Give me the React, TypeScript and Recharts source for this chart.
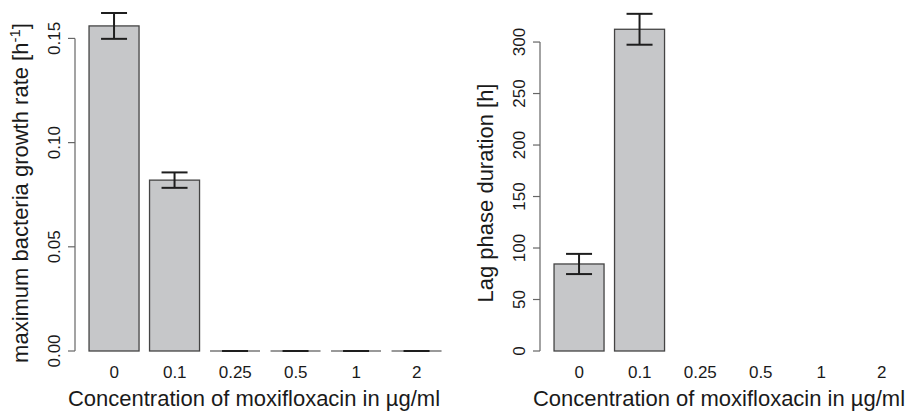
import React from 'react';
import { BarChart, Bar, XAxis, YAxis, ErrorBar, ReferenceLine, Label } from 'recharts';

// Concentration categories (µg/ml)
const concentrations = ['0', '0.1', '0.25', '0.5', '1', '2'];

// Left panel: maximum growth rate [1/h]
const growthRate = [0.156, 0.082, 0, 0, 0, 0];
const growthRateErr = [0.0062, 0.0037, 0, 0, 0, 0];
const growthTicks = [0, 0.05, 0.1, 0.15];

// Right panel: lag phase duration [h] (no growth at higher concentrations)
const lagDuration: (number | null)[] = [84.5, 312.4, null, null, null, null];
const lagDurationErr: (number | null)[] = [9.8, 15, null, null, null, null];
const lagTicks = [0, 50, 100, 150, 200, 250, 300];

const FONT = '"Liberation Sans", Arial, Helvetica, sans-serif';
const TEXT = '#1a1a1a';
const AXIS = '#666';
const ERR = '#1e1e1e';
const CAP_HALF = 13;

const growthData = concentrations.map((name, i) => ({ name, value: growthRate[i], err: growthRateErr[i] }));
const lagData = concentrations.map((name, i) => ({ name, value: lagDuration[i], err: lagDurationErr[i] }));

// R-style bars: zero values collapse to a flat outline, with the (zero) error caps on top
const BarShape = (props: any) => {
  const { x, y, width, height, payload } = props;
  if (payload == null || payload.value == null) return <g />;
  if (Math.abs(height) < 1) {
    const yy = y + height;
    const mid = x + width / 2;
    return (
      <g>
        <line x1={x} x2={x + width} y1={yy} y2={yy} stroke="#777" strokeWidth={1.3} />
        {payload.err === 0 && (
          <line x1={mid - CAP_HALF} x2={mid + CAP_HALF} y1={yy} y2={yy} stroke={ERR} strokeWidth={2} />
        )}
      </g>
    );
  }
  return <rect x={x} y={y} width={width} height={height} fill="#c6c7c9" stroke="#444" strokeWidth={1.3} />;
};

const XTick = (props: any) => {
  const { x, y, payload } = props;
  return (
    <text x={x} y={y} dy={27} textAnchor="middle" fontSize={17} fontFamily={FONT} fill={TEXT}>
      {payload.value}
    </text>
  );
};

const makeYTick = (fmt: (v: number) => string) => (props: any) => {
  const { x, y, payload } = props;
  return (
    <text x={x} y={y} transform={`rotate(-90, ${x}, ${y})`} textAnchor="middle" fontSize={17} fontFamily={FONT} fill={TEXT}>
      {fmt(payload.value)}
    </text>
  );
};

interface PanelProps {
  data: { name: string; value: number | null; err: number | null }[];
  ticks: number[];
  domainMax: number;
  fmt: (v: number) => string;
  yTitle: (x: number, y: number) => React.ReactNode;
  yAxisWidth: number;
  marginRight: number;
}

function Panel({ data, ticks, domainMax, fmt, yTitle, yAxisWidth, marginRight }: PanelProps) {
  const YTick = makeYTick(fmt);
  return (
    <BarChart
      width={460}
      height={411}
      data={data}
      margin={{ top: 13, right: marginRight, bottom: 0, left: 0 }}
      barCategoryGap="8.333%"
    >
      <XAxis
        xAxisId="cat"
        dataKey="name"
        interval={0}
        padding={{ left: 9, right: 0 }}
        axisLine={false}
        tickLine={false}
        tickSize={0}
        tickMargin={0}
        height={60}
        tick={<XTick />}
      >
        <Label
          content={(p: any) => {
            const vb = p.viewBox;
            return (
              <text x={vb.x + vb.width / 2 - 7} y={vb.y + 55} textAnchor="middle" fontSize={22} fontFamily={FONT} fill={TEXT}>
                Concentration of moxifloxacin in µg/ml
              </text>
            );
          }}
        />
      </XAxis>
      <XAxis xAxisId="frame" type="number" domain={[0, 1]} hide />
      <YAxis
        width={yAxisWidth}
        domain={[0, domainMax]}
        ticks={ticks}
        interval={0}
        axisLine={false}
        tickSize={7}
        tickMargin={8}
        tickLine={{ stroke: AXIS, strokeWidth: 1.2 }}
        tick={<YTick />}
      >
        <Label
          content={(p: any) => {
            const vb = p.viewBox;
            return yTitle(vb.x + vb.width - 47, vb.y + vb.height / 2 + 11);
          }}
        />
      </YAxis>
      <ReferenceLine
        xAxisId="frame"
        segment={[{ x: 0, y: 0 }, { x: 0, y: ticks[ticks.length - 1] }]}
        stroke={AXIS}
        strokeWidth={1.2}
      />
      <Bar xAxisId="cat" dataKey="value" shape={<BarShape />} isAnimationActive={false}>
        <ErrorBar dataKey="err" width={CAP_HALF} stroke={ERR} strokeWidth={2} direction="y" />
      </Bar>
    </BarChart>
  );
}

export default function App() {
  return (
    <div
      style={{ position: 'absolute', left: 0, top: 0, width: 908, height: 411, overflow: 'hidden', background: '#fff' }}
    >
      <div style={{ position: 'absolute', left: 0, top: 0 }}>
        <Panel
          data={growthData}
          ticks={growthTicks}
          domainMax={0.1622}
          fmt={(v) => v.toFixed(2)}
          yAxisWidth={75}
          marginRight={13}
          yTitle={(x, y) => (
            <text x={x} y={y} transform={`rotate(-90, ${x}, ${y})`} textAnchor="middle" fontSize={22} fontFamily={FONT} fill={TEXT}>
              maximum bacteria growth rate [h
              <tspan fontSize={15} dy={-8}>-1</tspan>
              <tspan dy={8}>]</tspan>
            </text>
          )}
        />
      </div>
      <div style={{ position: 'absolute', left: 460, top: 0 }}>
        <Panel
          data={lagData}
          ticks={lagTicks}
          domainMax={328.2}
          fmt={(v) => String(v)}
          yAxisWidth={80}
          marginRight={8}
          yTitle={(x, y) => (
            <text x={x} y={y} transform={`rotate(-90, ${x}, ${y})`} textAnchor="middle" fontSize={22} fontFamily={FONT} fill={TEXT}>
              Lag phase duration [h]
            </text>
          )}
        />
      </div>
    </div>
  );
}
